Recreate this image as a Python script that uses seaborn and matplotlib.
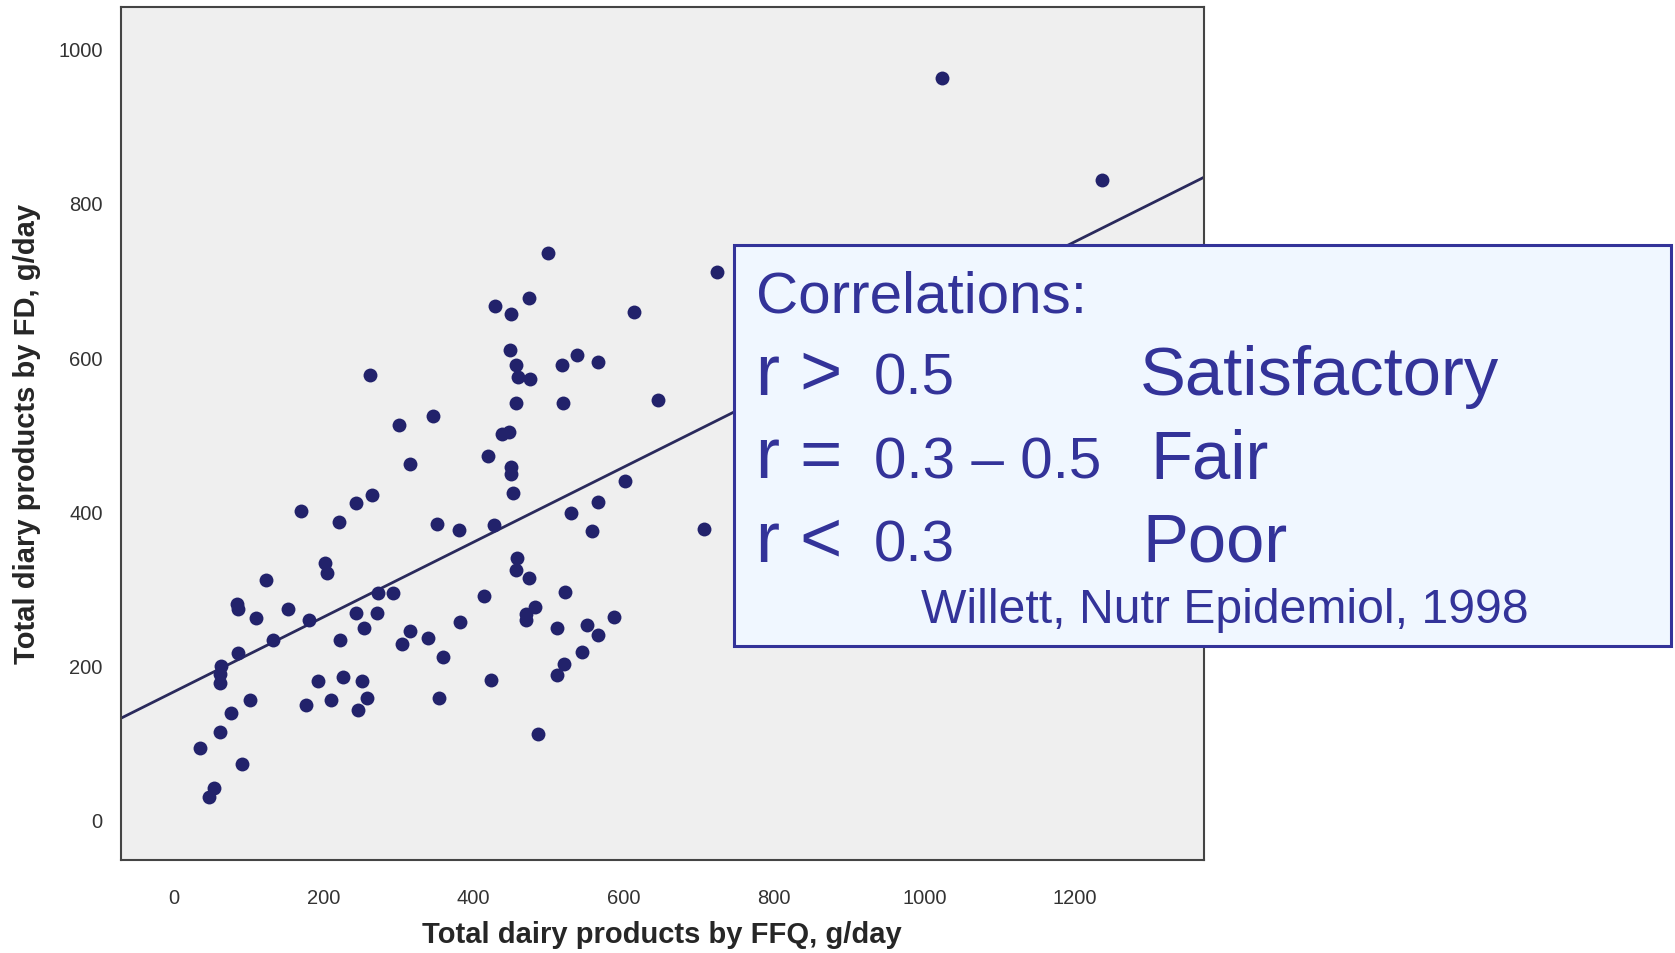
import pandas as pd
import matplotlib
matplotlib.use('Agg')
import matplotlib.pyplot as plt
import seaborn as sns
from matplotlib.patches import Rectangle

# data (FFQ vs food diary, g/day)
ffq = [1023, 1237, 724, 499, 429, 450, 473, 614, 448, 537, 517, 566, 456, 459, 475,
       262, 456, 519, 645, 300, 346, 438, 447, 419, 315, 450, 450, 452, 170, 221,
       243, 265, 351, 381, 427, 602, 566, 530, 557, 706, 202, 204, 124, 85, 86,
       110, 153, 181, 133, 86, 63, 62, 62, 102, 77, 62, 36, 92, 54, 47,
       272, 293, 243, 271, 254, 222, 315, 305, 339, 359, 382, 414, 458, 456, 474,
       482, 469, 470, 522, 511, 551, 565, 587, 544, 520, 511, 423, 486, 354, 193,
       226, 251, 176, 210, 246, 258]
fd = [962, 830, 711, 735, 666, 656, 677, 659, 609, 603, 589, 593, 589, 574, 571,
      576, 540, 540, 544, 512, 524, 500, 502, 472, 461, 457, 448, 424, 400, 386,
      411, 421, 383, 376, 382, 439, 412, 397, 374, 377, 333, 320, 310, 279, 273,
      261, 273, 259, 233, 216, 199, 188, 177, 155, 138, 113, 93, 71, 41, 29,
      294, 293, 268, 268, 248, 233, 244, 227, 235, 210, 256, 290, 339, 324, 313,
      275, 266, 258, 295, 248, 252, 239, 263, 217, 202, 187, 181, 110, 157, 180,
      184, 180, 148, 155, 142, 157]

# fitted line as shown in the figure (some points are hidden under the box)
fit_intercept = 165
fit_slope = 0.487

x_ticks = [0, 200, 400, 600, 800, 1000, 1200]
y_ticks = [0, 200, 400, 600, 800, 1000]

rows = ['r > ', 'r = ', 'r < ']
ranges = ['0.5', '0.3 \u2013 0.5', '0.3']
grades = ['Satisfactory', 'Fair', 'Poor']

df = pd.DataFrame({'ffq': ffq, 'fd': fd})

sns.set_style('white')
plt.rcParams['font.family'] = ['Liberation Sans', 'DejaVu Sans']

navy = '#22226b'
blue = '#333399'

fig = plt.figure(figsize=(16.75, 9.54), dpi=100)
ax = fig.add_axes([0.0721, 0.0975, 0.6465, 0.8946])
ax.set_facecolor('#efefef')
ax.set_xlim(-70, 1372)
ax.set_ylim(-53, 1055)

sns.scatterplot(data=df, x='ffq', y='fd', ax=ax, s=100, color=navy,
                linewidth=0, alpha=1, zorder=3)
ax.axline((0, fit_intercept), slope=fit_slope, color='#2a2a5c', linewidth=2, zorder=2)

ax.set_xticks(x_ticks)
ax.set_yticks(y_ticks)
ax.tick_params(axis='x', direction='out', length=10, width=1.5, color='#333333',
               pad=10, labelsize=14.5, labelcolor='#333333')
ax.tick_params(axis='y', direction='out', length=9, width=1.5, color='#333333',
               pad=4, labelsize=14.5, labelcolor='#333333')
for s in ax.spines.values():
    s.set_color('#444444')
    s.set_linewidth(1.5)
    s.set_visible(True)

ax.set_xlabel('Total dairy products by FFQ, g/day', fontsize=21, fontweight='bold')
ax.set_ylabel('Total diary products by FD, g/day', fontsize=21, fontweight='bold')
ax.xaxis.set_label_coords(0.5, -0.07)
ax.yaxis.set_label_coords(-0.074, 0.5)

# annotation box
fig.add_artist(Rectangle((0.438, 0.3223), 0.5596, 0.4203, transform=fig.transFigure,
                         facecolor='#f0f7ff', edgecolor=blue, linewidth=2.2, zorder=10))

fig.text(0.4515, 0.672, 'Correlations:', fontsize=42, color=blue, zorder=11)
for i, y in enumerate([0.586, 0.4986, 0.4112]):
    fig.text(0.4515, y, rows[i], fontsize=52, color=blue, zorder=11)
    fig.text(0.5215, y, ranges[i], fontsize=42, color=blue, zorder=11)
    fig.text([0.6806, 0.687, 0.682][i], y, grades[i], fontsize=49.5, color=blue, zorder=11)
fig.text(0.55, 0.3473, 'Willett, Nutr Epidemiol, 1998', fontsize=34.7, color=blue, zorder=11)

fig.savefig('out.png', dpi=100, facecolor='white')
